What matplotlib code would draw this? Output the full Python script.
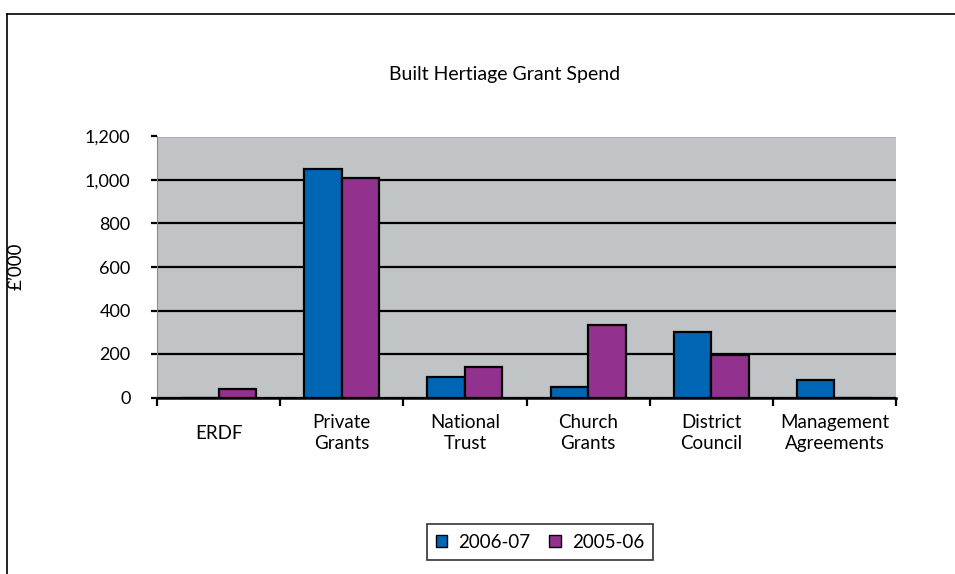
import matplotlib
matplotlib.use("Agg")
import matplotlib.pyplot as plt
from matplotlib.lines import Line2D
import numpy as np

categories = ["ERDF", "Private\nGrants", "National\nTrust", "Church\nGrants",
              "District\nCouncil", "Management\nAgreements"]
series_names = ["2006-07", "2005-06"]
spend_2006_07 = [0, 1050, 92, 48, 300, 80]
spend_2005_06 = [40, 1010, 138, 335, 195, 0]
y_ticks = [0, 200, 400, 600, 800, 1000, 1200]

BLUE = "#0066B3"
PURPLE = "#93328E"
PLOT_BG = "#C1C4C7"

plt.rcParams["font.family"] = ["Lato", "DejaVu Sans"]

W, H = 955, 574
fig = plt.figure(figsize=(W / 100, H / 100), dpi=100)
ax = fig.add_axes([157 / W, 1 - 397.5 / H, (896 - 157) / W, (397.5 - 136.5) / H])
ax.set_facecolor(PLOT_BG)

x = np.arange(len(categories))
bw = 0.305
ax.bar(x - bw / 2, spend_2006_07, bw, color=BLUE, edgecolor="black",
       linewidth=1.6, label=series_names[0], zorder=3)
ax.bar(x + bw / 2, spend_2005_06, bw, color=PURPLE, edgecolor="black",
       linewidth=1.6, label=series_names[1], zorder=3)

ax.set_xlim(-0.5, len(categories) - 0.5)
ax.set_ylim(0, 1200)
ax.set_yticks(y_ticks)
ax.set_yticklabels([f"{v:,}" for v in y_ticks], fontsize=13)
ax.yaxis.grid(True, color="black", linewidth=1.6, zorder=1)
ax.tick_params(axis="y", length=4, width=1.6, pad=15, color="black")

# category boundaries carry the x ticks; labels sit at the centres
ax.set_xticks(np.arange(len(categories) + 1) - 0.5)
ax.set_xticklabels([])
ax.tick_params(axis="x", length=6, width=1.6, color="black")
for xi, lab in zip(x, categories):
    ax.text(xi, -165, lab, ha="center", va="center", fontsize=13.5,
            linespacing=1.3, transform=ax.transData)

for s in ["top", "right"]:
    ax.spines[s].set_visible(False)
ax.spines["left"].set_color("#8a8a8a")
ax.spines["left"].set_linewidth(0.8)
ax.spines["bottom"].set_color("black")
ax.spines["bottom"].set_linewidth(1.8)
ax.spines["bottom"].set_zorder(4)

fig.text(505 / W, 1 - 74 / H, "Built Hertiage Grant Spend", ha="center",
         va="center", fontsize=14)
fig.text(16 / W, 1 - 266 / H, "£\u2019000", ha="center", va="center",
         rotation=90, fontsize=13.5)

leg = fig.legend(loc="center", bbox_to_anchor=(540 / W, 1 - 542 / H),
                 ncol=2, frameon=True, fancybox=False, fontsize=13.5,
                 handlelength=0.6, handleheight=0.6, handletextpad=0.6,
                 columnspacing=1.0, borderpad=0.5)
leg.get_frame().set_edgecolor("black")
leg.get_frame().set_linewidth(1.2)
for h in leg.legend_handles:
    h.set_linewidth(1.0)

# outer chart border (top and left edges)
fig.add_artist(Line2D([7 / W, 1], [1 - 14 / H, 1 - 14 / H], color="black",
                      linewidth=1.2, transform=fig.transFigure))
fig.add_artist(Line2D([7 / W, 7 / W], [0, 1 - 14 / H], color="black",
                      linewidth=1.2, transform=fig.transFigure))

fig.savefig("out.png", dpi=100, facecolor="white")
